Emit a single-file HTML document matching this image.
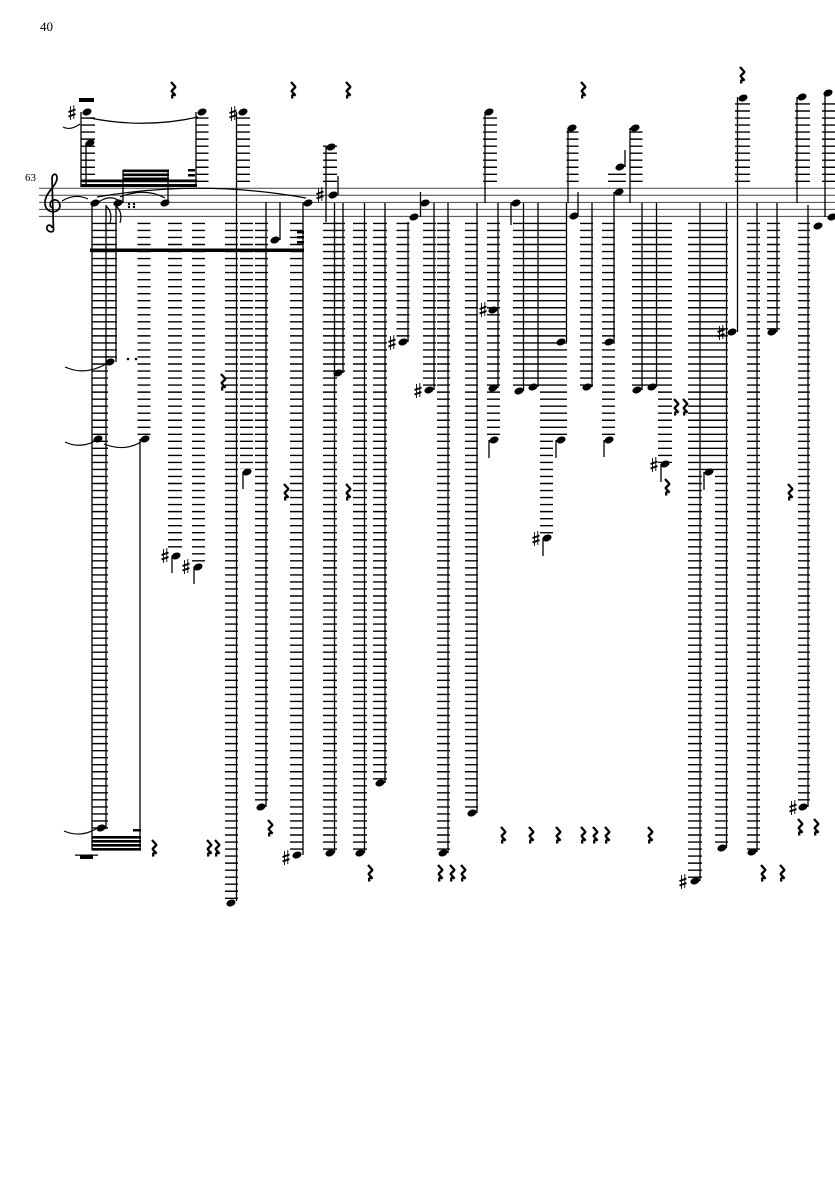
<!DOCTYPE html>
<html><head><meta charset="utf-8"><style>
html,body{margin:0;padding:0;background:#fff;}
svg{display:block;}
.L{stroke:#000;stroke-dasharray:1.4 5.63;fill:none;}
.n ellipse{rx:4.7px;ry:3.3px;transform-box:fill-box;transform-origin:center;transform:rotate(-20deg);fill:#000;}
</style></head><body>
<svg width="835" height="1181" viewBox="0 0 835 1181" xmlns="http://www.w3.org/2000/svg">
<rect width="835" height="1181" fill="#fff"/>
<text x="40" y="31" font-family="Liberation Serif, serif" font-size="13">40</text>
<text x="25" y="181" font-family="Liberation Serif, serif" font-size="11">63</text>

<path stroke="#444" stroke-width="1" d="M39 188.3H835M39 195.3H835M39 202.4H835M39 209.4H835M39 216.4H835"/>
<path d="M53.5 231C51 233 46 231 47 227C48 224 52 225 52 228M53.5 231L52 178C52 174 57 172 57 178C57 186 45 192 45 203C45 211 53 214 58 210C62 206 59 199 54 200C49 201 49 207 53 208" fill="none" stroke="#000" stroke-width="1.7"/>

<g class="L">
<line x1="100" y1="222.7" x2="100" y2="829" stroke-width="16"/>
<line x1="111" y1="222.7" x2="111" y2="363" stroke-width="12"/>
<line x1="144" y1="222.7" x2="144" y2="439" stroke-width="13"/>
<line x1="175" y1="222.7" x2="175" y2="553" stroke-width="14"/>
<line x1="198.5" y1="222.7" x2="198.5" y2="564" stroke-width="13"/>
<line x1="231.5" y1="222.7" x2="231.5" y2="901" stroke-width="13"/>
<line x1="246.5" y1="222.7" x2="246.5" y2="469" stroke-width="13"/>
<line x1="261.5" y1="222.7" x2="261.5" y2="806" stroke-width="13"/>
<line x1="296.5" y1="222.7" x2="296.5" y2="853" stroke-width="13"/>
<line x1="330" y1="222.7" x2="330" y2="851" stroke-width="14"/>
<line x1="339" y1="222.7" x2="339" y2="372" stroke-width="12"/>
<line x1="360" y1="222.7" x2="360" y2="851" stroke-width="14"/>
<line x1="380" y1="222.7" x2="380" y2="781" stroke-width="14"/>
<line x1="403" y1="222.7" x2="403" y2="341" stroke-width="13"/>
<line x1="429.5" y1="222.7" x2="429.5" y2="389" stroke-width="13"/>
<line x1="443.5" y1="222.7" x2="443.5" y2="851" stroke-width="13"/>
<line x1="471.5" y1="222.7" x2="471.5" y2="811" stroke-width="13"/>
<line x1="493.5" y1="222.7" x2="493.5" y2="438" stroke-width="13"/>
<line x1="520" y1="222.7" x2="520" y2="389" stroke-width="14"/>
<line x1="533.5" y1="222.7" x2="533.5" y2="386" stroke-width="13"/>
<line x1="546.5" y1="222.7" x2="546.5" y2="536" stroke-width="13"/>
<line x1="560" y1="222.7" x2="560" y2="438" stroke-width="14"/>
<line x1="586.5" y1="222.7" x2="586.5" y2="386" stroke-width="13"/>
<line x1="608.5" y1="222.7" x2="608.5" y2="438" stroke-width="13"/>
<line x1="638.5" y1="222.7" x2="638.5" y2="389" stroke-width="13"/>
<line x1="651.5" y1="222.7" x2="651.5" y2="386" stroke-width="13"/>
<line x1="665" y1="222.7" x2="665" y2="463" stroke-width="14"/>
<line x1="695" y1="222.7" x2="695" y2="879" stroke-width="14"/>
<line x1="708.5" y1="222.7" x2="708.5" y2="471" stroke-width="13"/>
<line x1="721.5" y1="222.7" x2="721.5" y2="847" stroke-width="13"/>
<line x1="753.5" y1="222.7" x2="753.5" y2="851" stroke-width="13"/>
<line x1="773.5" y1="222.7" x2="773.5" y2="331" stroke-width="13"/>
<line x1="804" y1="222.7" x2="804" y2="806" stroke-width="12"/>
<line x1="88" y1="182" x2="88" y2="117" stroke-width="14"/>
<line x1="202" y1="182" x2="202" y2="117" stroke-width="13"/>
<line x1="243.5" y1="182" x2="243.5" y2="117" stroke-width="13"/>
<line x1="330" y1="182" x2="330" y2="145.5" stroke-width="14"/>
<line x1="490" y1="182" x2="490" y2="117" stroke-width="14"/>
<line x1="572.5" y1="182" x2="572.5" y2="131" stroke-width="12"/>
<line x1="617" y1="182" x2="617" y2="173.5" stroke-width="18"/>
<line x1="636" y1="182" x2="636" y2="131" stroke-width="13"/>
<line x1="742.5" y1="182" x2="742.5" y2="103" stroke-width="15"/>
<line x1="802.5" y1="182" x2="802.5" y2="103" stroke-width="15"/>
<line x1="829" y1="182" x2="829" y2="103" stroke-width="14"/>
</g>

<path fill="#000" d="M79 98h15v4h-15zM81 179.5h116v2.8h-116zM81 184h116v3h-116zM123 169.5h46v2.6h-46zM123 173.5h46v2.6h-46zM123 177.5h46v2.6h-46zM188 169h7v2.5h-7zM188 174h7v2.5h-7zM90 248.5h214v3.5h-214zM297 231h7v2.5h-7zM297 236h7v2.5h-7zM297 241h7v2.5h-7zM92 836h49v2.6h-49zM92 840h49v2.6h-49zM92 844h49v2.6h-49zM92 848h49v2.6h-49zM133 829h8v2.5h-8zM80 855h13v4h-13zM75 854.5h23v1.2h-23z"/>

<path stroke="#000" stroke-width="1.3" fill="none" d="M81 112V187M86 143V187M123 170V203M168 170V203M196 112V187M236.5 112V901M92 203V850M106 205V829M116 205V362M140 439V850M172 556V573M194 567V584M243 472V489M266 202V807M280 202V240M303 203V855M326 147V222M334.5 203V853M343 203V373M338 176V195M364.5 203V853M385 203V783M408 222V342M420.5 192V217M434 203V390M448 203V853M477 203V813M485 112V203M498 203V388M489 440V458M511 203V225M523.5 203V391M538 203V387M543 538V556M566.5 203V342M556 440V458M568 128V203M578 192V216M592 203V387M614 192V342M604 440V457M625 150V167M630 128V203M642 203V390M656.5 203V387M661 464V482M700 203V881M704 472V490M726.5 203V848M737.5 97V332M757 203V852M777 203V332M797 97V203M808 205V807M825 93V217"/>

<path fill="none" stroke="#000" stroke-width="1.2" d="M106 206Q113 212 110 223M116 206Q123 212 120 223M63 127Q70 131 80 124M90 118Q145 129 198 117M62 201Q75 193 88 199M97 197Q200 179 306 198M96 204Q108 194 118 200M120 197Q145 187 165 198M65 367Q85 376 106 364M65 442Q80 449 95 441M104 444Q124 452 141 442M64 831Q80 838 96 829"/>

<g fill="#000">
<circle cx="128" cy="359" r="1.3"/><circle cx="136" cy="359" r="1.3"/>
<circle cx="129" cy="204" r="1.2"/><circle cx="134" cy="204" r="1.2"/>
<circle cx="129" cy="207" r="1.2"/><circle cx="134" cy="207" r="1.2"/>
</g>

<g class="n">
<ellipse cx="87" cy="112"/><ellipse cx="90" cy="143"/><ellipse cx="202" cy="112"/><ellipse cx="243" cy="112"/>
<ellipse cx="331" cy="147"/><ellipse cx="333" cy="195"/><ellipse cx="308" cy="203"/><ellipse cx="414" cy="217"/>
<ellipse cx="425" cy="203"/><ellipse cx="489" cy="112"/><ellipse cx="516" cy="203"/><ellipse cx="572" cy="128"/>
<ellipse cx="574" cy="216"/><ellipse cx="620" cy="167"/><ellipse cx="619" cy="192"/><ellipse cx="635" cy="128"/>
<ellipse cx="743" cy="98"/><ellipse cx="802" cy="97"/><ellipse cx="828" cy="93"/><ellipse cx="818" cy="226"/>
<ellipse cx="832" cy="217"/><ellipse cx="95" cy="203"/><ellipse cx="118" cy="203"/><ellipse cx="165" cy="203"/>
<ellipse cx="275" cy="240"/><ellipse cx="110" cy="362"/><ellipse cx="98" cy="439"/><ellipse cx="145" cy="439"/>
<ellipse cx="176" cy="556"/><ellipse cx="198" cy="567"/><ellipse cx="247" cy="472"/><ellipse cx="101" cy="828"/>
<ellipse cx="231" cy="903"/><ellipse cx="261" cy="807"/><ellipse cx="297" cy="855"/><ellipse cx="338" cy="373"/>
<ellipse cx="330" cy="853"/><ellipse cx="360" cy="853"/><ellipse cx="380" cy="783"/><ellipse cx="403" cy="342"/>
<ellipse cx="429" cy="390"/><ellipse cx="443" cy="853"/><ellipse cx="472" cy="813"/><ellipse cx="493" cy="310"/>
<ellipse cx="493" cy="388"/><ellipse cx="494" cy="440"/><ellipse cx="519" cy="391"/><ellipse cx="533" cy="387"/>
<ellipse cx="547" cy="538"/><ellipse cx="561" cy="342"/><ellipse cx="561" cy="440"/><ellipse cx="587" cy="387"/>
<ellipse cx="609" cy="342"/><ellipse cx="609" cy="440"/><ellipse cx="637" cy="390"/><ellipse cx="652" cy="387"/>
<ellipse cx="665" cy="464"/><ellipse cx="695" cy="881"/><ellipse cx="709" cy="472"/><ellipse cx="722" cy="848"/>
<ellipse cx="732" cy="332"/><ellipse cx="752" cy="852"/><ellipse cx="772" cy="332"/><ellipse cx="803" cy="807"/>
</g>

<path fill="none" stroke="#000" stroke-width="0.9" d="M70.5 106v14m3.3-15v14M231.5 107v14m3.3-15v14M318.5 188v14m3.3-15v14M390.5 336v14m3.3-15v14M416.5 384v14m3.3-15v14M481.5 303v14m3.3-15v14M534.5 532v14m3.3-15v14M652.5 458v14m3.3-15v14M719.5 326v14m3.3-15v14M681.5 875v14m3.3-15v14M791.5 801v14m3.3-15v14M163.5 549v14m3.3-15v14M184.5 560v14m3.3-15v14M284.5 851v14m3.3-15v14"/>
<path fill="none" stroke="#000" stroke-width="1.8" d="M68.5 112l7-2.5m-7 7l7-2.5M229.5 113l7-2.5m-7 7l7-2.5M316.5 194l7-2.5m-7 7l7-2.5M388.5 342l7-2.5m-7 7l7-2.5M414.5 390l7-2.5m-7 7l7-2.5M479.5 309l7-2.5m-7 7l7-2.5M532.5 538l7-2.5m-7 7l7-2.5M650.5 464l7-2.5m-7 7l7-2.5M717.5 332l7-2.5m-7 7l7-2.5M679.5 881l7-2.5m-7 7l7-2.5M789.5 807l7-2.5m-7 7l7-2.5M161.5 555l7-2.5m-7 7l7-2.5M182.5 566l7-2.5m-7 7l7-2.5M282.5 857l7-2.5m-7 7l7-2.5"/>

<path fill="none" stroke="#000" stroke-width="2.3" stroke-linejoin="bevel" d="M171 82l4.5 5-4 4 4 4.5q-4.5-2-3 3M291 82l4.5 5-4 4 4 4.5q-4.5-2-3 3M346 82l4.5 5-4 4 4 4.5q-4.5-2-3 3M581 82l4.5 5-4 4 4 4.5q-4.5-2-3 3M740 67l4.5 5-4 4 4 4.5q-4.5-2-3 3M221 374l4.5 5-4 4 4 4.5q-4.5-2-3 3M284 484l4.5 5-4 4 4 4.5q-4.5-2-3 3M346 484l4.5 5-4 4 4 4.5q-4.5-2-3 3M665 479l4.5 5-4 4 4 4.5q-4.5-2-3 3M674 399l4.5 5-4 4 4 4.5q-4.5-2-3 3M683 399l4.5 5-4 4 4 4.5q-4.5-2-3 3M788 484l4.5 5-4 4 4 4.5q-4.5-2-3 3M152 840l4.5 5-4 4 4 4.5q-4.5-2-3 3M207 840l4.5 5-4 4 4 4.5q-4.5-2-3 3M215 840l4.5 5-4 4 4 4.5q-4.5-2-3 3M268 820l4.5 5-4 4 4 4.5q-4.5-2-3 3M368 865l4.5 5-4 4 4 4.5q-4.5-2-3 3M438 865l4.5 5-4 4 4 4.5q-4.5-2-3 3M450 865l4.5 5-4 4 4 4.5q-4.5-2-3 3M461 865l4.5 5-4 4 4 4.5q-4.5-2-3 3M501 827l4.5 5-4 4 4 4.5q-4.5-2-3 3M529 827l4.5 5-4 4 4 4.5q-4.5-2-3 3M556 827l4.5 5-4 4 4 4.5q-4.5-2-3 3M581 827l4.5 5-4 4 4 4.5q-4.5-2-3 3M593 827l4.5 5-4 4 4 4.5q-4.5-2-3 3M605 827l4.5 5-4 4 4 4.5q-4.5-2-3 3M648 827l4.5 5-4 4 4 4.5q-4.5-2-3 3M761 865l4.5 5-4 4 4 4.5q-4.5-2-3 3M780 865l4.5 5-4 4 4 4.5q-4.5-2-3 3M798 819l4.5 5-4 4 4 4.5q-4.5-2-3 3M814 819l4.5 5-4 4 4 4.5q-4.5-2-3 3"/>
</svg>
</body></html>
